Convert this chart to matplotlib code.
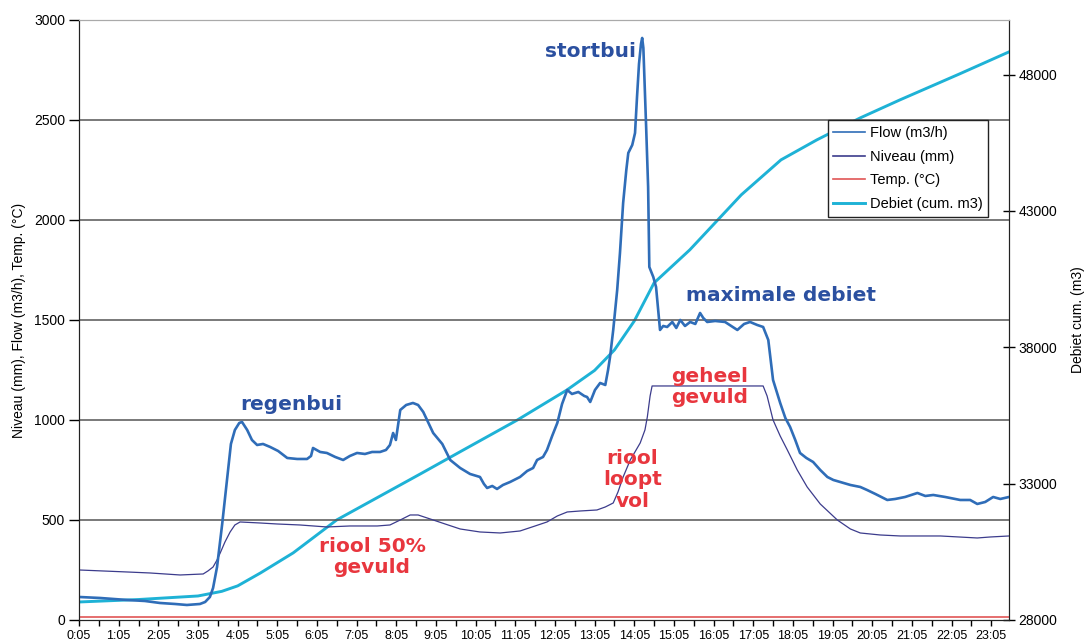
import numpy as np
import matplotlib.pyplot as plt
from matplotlib.ticker import MultipleLocator

# --- Data (uren na 0:05) ---
flow_t = [0.0, 0.53, 1.21, 1.66, 2.04, 2.42, 2.72, 3.05, 3.18, 3.30, 3.38, 3.48, 3.61, 3.73,
          3.83, 3.93, 4.04, 4.11, 4.24, 4.36, 4.49, 4.64, 4.82, 5.02, 5.25, 5.50, 5.75, 5.85,
          5.90, 6.08, 6.25, 6.46, 6.66, 6.83, 7.01, 7.21, 7.39, 7.59, 7.74, 7.84, 7.92, 7.99,
          8.10, 8.25, 8.42, 8.55, 8.68, 8.80, 8.93, 9.16, 9.36, 9.61, 9.86, 10.11, 10.21, 10.29,
          10.42, 10.54, 10.69, 10.87, 11.12, 11.30, 11.45, 11.55, 11.70, 11.80, 11.93, 12.06,
          12.18, 12.31, 12.43, 12.59, 12.74, 12.81, 12.89, 13.01, 13.14, 13.27, 13.34, 13.39,
          13.47, 13.57, 13.64, 13.72, 13.80, 13.85, 13.95, 14.02, 14.07, 14.12, 14.17, 14.20,
          14.23, 14.25, 14.30, 14.35, 14.38, 14.43, 14.48, 14.55, 14.60, 14.65, 14.73, 14.83,
          14.96, 15.06, 15.16, 15.28, 15.41, 15.54, 15.66, 15.74, 15.84, 16.04, 16.29, 16.60,
          16.77, 16.92, 17.10, 17.25, 17.38, 17.50, 17.68, 17.81, 17.93, 18.06, 18.18, 18.34,
          18.51, 18.69, 18.87, 19.02, 19.19, 19.45, 19.70, 19.87, 20.08, 20.38, 20.58, 20.83,
          21.14, 21.34, 21.54, 21.84, 22.22, 22.47, 22.65, 22.85, 23.05, 23.23, 23.45]
flow = [115, 110, 100, 95, 85, 80, 75, 80, 90, 115, 160, 265, 480, 700,
        880, 950, 985, 990, 950, 900, 875, 880, 865, 845, 810, 805, 805, 820,
        860, 840, 835, 815, 800, 820, 835, 830, 840, 840, 850, 875, 935, 900,
        1050, 1075, 1085, 1075, 1040, 990, 935, 880, 800, 760, 730, 715, 680, 660,
        670, 655, 675, 690, 715, 745, 760, 800, 815, 850, 920, 985,
        1080, 1150, 1130, 1140, 1120, 1115, 1090, 1150, 1185, 1175, 1250, 1315,
        1450, 1650, 1835, 2085, 2250, 2335, 2375, 2435, 2615, 2780, 2880, 2910,
        2860, 2750, 2465, 2165, 1765, 1740, 1715, 1665, 1560, 1450, 1470, 1465,
        1490, 1460, 1500, 1470, 1490, 1480, 1535, 1510, 1490, 1495, 1490, 1450,
        1480, 1490, 1475, 1465, 1400, 1200, 1085, 1010, 965, 900, 835, 810,
        790, 750, 715, 700, 690, 675, 665, 650, 630, 600, 605, 615,
        635, 620, 625, 615, 600, 600, 580, 590, 615, 605, 615]

niveau_t = [0.0, 1.21, 1.79, 2.55, 3.13, 3.25, 3.38, 3.48, 3.56, 3.68, 3.81, 3.93, 4.06,
            4.56, 4.99, 5.57, 6.25, 6.83, 7.52, 7.84, 8.10, 8.35, 8.55, 8.93, 9.23, 9.61,
            10.11, 10.62, 11.12, 11.50, 11.80, 12.06, 12.31, 12.64, 13.06, 13.27, 13.47,
            13.59, 13.72, 13.90, 14.15, 14.27, 14.33, 14.40, 14.45, 17.25, 17.35, 17.50,
            17.68, 17.86, 18.11, 18.36, 18.69, 19.12, 19.45, 19.70, 20.20, 20.71, 21.72,
            22.65, 22.98, 23.45]
niveau = [250, 240, 235, 225, 230, 245, 265, 300, 335, 390, 440, 475, 490,
          485, 480, 475, 465, 470, 470, 475, 500, 525, 525, 500, 480, 455,
          440, 435, 445, 470, 490, 520, 540, 545, 550, 565, 585,
          640, 715, 800, 885, 950, 1015, 1120, 1170, 1170, 1120, 1000,
          920, 850, 750, 665, 580, 500, 455, 435, 425, 420, 420,
          410, 415, 420]

temp_t = [0.0, 23.45]
temp = [15, 15]

debiet_t = [0.0, 1.5, 3.0, 3.6, 4.0, 4.57, 5.4, 6.5, 7.6, 8.6, 9.6, 11.05, 12.3, 13.0,
            13.5, 14.0, 14.5, 15.4, 16.7, 17.7, 18.6, 19.7, 20.7, 22.2, 23.45]
debiet = [28660, 28750, 28880, 29050, 29250, 29720, 30460, 31670, 32550, 33350, 34160,
          35330, 36430, 37150, 37900, 38960, 40360, 41570, 43590, 44870, 45600, 46410,
          47070, 48020, 48830]

uur_labels = [f"{h}:05" for h in range(24)]

# --- Kleuren ---
c_flow = '#2f6db8'
c_niveau = '#3c3c8c'
c_temp = '#e05555'
c_debiet = '#1eb2d6'
c_blauw_txt = '#2b50a0'
c_rood_txt = '#e8363e'

plt.rcParams['font.family'] = ['Liberation Sans', 'DejaVu Sans']

fig = plt.figure(figsize=(10.9, 6.44), dpi=100)
ax = fig.add_axes([0.0725, 0.0373, 0.8532, 0.9317])
ax2 = ax.twinx()

ax.set_zorder(ax2.get_zorder() + 1)
ax.patch.set_visible(False)

l_debiet, = ax2.plot(debiet_t, debiet, color=c_debiet, lw=2.1, label='Debiet (cum. m3)')
l_temp, = ax.plot(temp_t, temp, color=c_temp, lw=1.2, label='Temp. (°C)')
l_niveau, = ax.plot(niveau_t, niveau, color=c_niveau, lw=0.9, label='Niveau (mm)')
l_flow, = ax.plot(flow_t, flow, color=c_flow, lw=1.9, label='Flow (m3/h)')

ax.set_xlim(0, 23.45)
ax.set_ylim(0, 3000)
ax2.set_ylim(28000, 50000)

ax.set_yticks(np.arange(0, 3001, 500))
ax2.set_yticks([28000, 33000, 38000, 43000, 48000])
ax.set_xticks(range(24))
ax.set_xticklabels(uur_labels)
ax.xaxis.set_minor_locator(MultipleLocator(0.5))

for y in [500, 1000, 1500, 2000, 2500]:
    ax.axhline(y, color='#555555', lw=1.1, zorder=0.5)

ax.tick_params(axis='x', which='both', length=4, width=1, labelsize=9, pad=3)
ax.tick_params(axis='y', length=7, width=1, labelsize=10, pad=3)
ax2.tick_params(axis='y', direction='inout', length=8, width=1, labelsize=10, pad=3)

for a in (ax, ax2):
    a.spines['top'].set_color('#aaaaaa')
    a.spines['left'].set_color('#222222')
    a.spines['right'].set_color('#222222')
    a.spines['bottom'].set_color('#222222')

ax.set_ylabel('Niveau (mm), Flow (m3/h), Temp. (°C)', fontsize=10, labelpad=6)
ax2.set_ylabel('Debiet cum. (m3)', fontsize=10, labelpad=10)

# --- Annotaties ---
kw = dict(family='DejaVu Sans', fontweight='bold', fontsize=14.5, ha='center', va='center',
          linespacing=1.15)
ax.text(12.9, 2840, 'stortbui', color=c_blauw_txt, **kw)
ax.text(5.35, 1075, 'regenbui', color=c_blauw_txt, **kw)
ax.text(17.7, 1620, 'maximale debiet', color=c_blauw_txt, **kw)
ax.text(7.39, 315, 'riool 50%\ngevuld', color=c_rood_txt, **kw)
ax.text(13.95, 700, 'riool\nloopt\nvol', color=c_rood_txt, **kw)
ax.text(15.89, 1165, 'geheel\ngevuld', color=c_rood_txt, **kw)

# --- Legenda ---
leg = ax.legend(handles=[l_flow, l_niveau, l_temp, l_debiet],
                loc='upper left', bbox_to_anchor=(0.797, 0.845), fontsize=10.5,
                frameon=True, fancybox=False, edgecolor='#222222', framealpha=1,
                handlelength=2.2, handletextpad=0.3, labelspacing=0.66, borderpad=0.4)
leg.get_frame().set_linewidth(1.0)
for h in leg.get_lines():
    h.set_linewidth(1.2)
leg.get_lines()[3].set_linewidth(2.1)

fig.savefig('out.png', dpi=100)
